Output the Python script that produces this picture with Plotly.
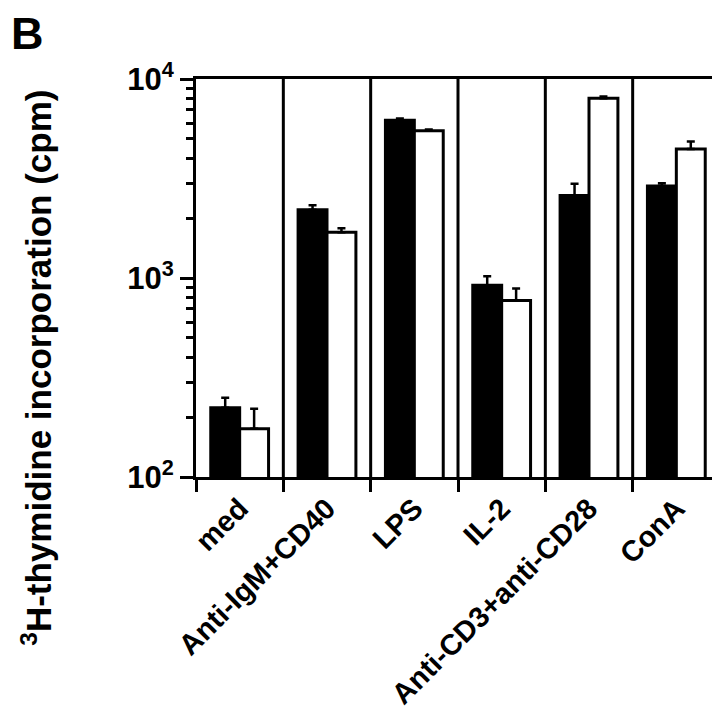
import plotly.graph_objects as go

categories = ["med", "Anti-IgM+CD40", "LPS", "IL-2", "Anti-CD3+anti-CD28", "ConA"]
black_vals = [223, 2200, 6200, 920, 2600, 2900]
black_err = [27, 120, 130, 100, 380, 90]
white_vals = [175, 1700, 5500, 770, 8000, 4450]
white_err = [45, 80, 80, 115, 160, 400]
major_ticks = [100, 1000, 10000]
major_text = ["10<sup>2</sup>", "10<sup>3</sup>", "10<sup>4</sup>"]

FONT = "Liberation Sans"

minor_vals = [k * 10 ** d for d in (2, 3) for k in range(2, 10)]

fig = go.Figure()
fig.add_trace(go.Bar(
    x=categories, y=black_vals,
    marker=dict(color="black", line=dict(color="black", width=3)),
    error_y=dict(type="data", array=black_err, arrayminus=[0] * len(black_err),
                 symmetric=False, color="black", thickness=2.5, width=4),
    showlegend=False,
))
fig.add_trace(go.Bar(
    x=categories, y=white_vals,
    marker=dict(color="white", line=dict(color="black", width=3)),
    error_y=dict(type="data", array=white_err, arrayminus=[0] * len(white_err),
                 symmetric=False, color="black", thickness=2.5, width=4),
    showlegend=False,
))

# vertical dividers between categories
for i in range(len(categories) - 1):
    fig.add_shape(type="line", xref="x", yref="paper", x0=i + 0.5, x1=i + 0.5,
                  y0=0, y1=1, line=dict(color="black", width=3), layer="above")

fig.update_layout(
    width=720, height=716,
    margin=dict(l=188, r=5, t=71, b=247),
    plot_bgcolor="white", paper_bgcolor="white",
    barmode="group", bargap=0.338, bargroupgap=0,
    font=dict(family=FONT, color="black"),
)
fig.update_xaxes(
    type="category", range=[-0.5, len(categories) - 0.5],
    showline=True, linecolor="black", linewidth=3, mirror=True,
    ticks="outside", tickson="boundaries", ticklen=12, tickwidth=3, tickcolor="black",
    tickangle=-45, tickfont=dict(family=FONT, size=29, color="black", weight="bold"),
    showgrid=False,
)
fig.update_yaxes(
    type="log", range=[2, 4],
    showline=True, linecolor="black", linewidth=3, mirror=True,
    tickmode="array", tickvals=major_ticks, ticktext=major_text,
    ticks="outside", ticklen=13, tickwidth=3, tickcolor="black",
    tickfont=dict(family=FONT, size=31, color="black", weight="bold"),
    minor=dict(tickmode="array", tickvals=minor_vals, ticks="outside",
               ticklen=7, tickwidth=3, tickcolor="black", showgrid=False),
    showgrid=False, zeroline=False,
)

fig.add_annotation(
    text="<sup>3</sup>H-thymidine incorporation (cpm)",
    textangle=-90, xref="paper", yref="paper",
    x=-0.305, y=0.275, xanchor="center", yanchor="middle", showarrow=False,
    font=dict(family=FONT, size=35, color="black", weight="bold"),
)
fig.add_annotation(
    text="B", xref="paper", yref="paper",
    x=-188 / 527, y=1 + 71 / 398 + 0.005, xanchor="left", yanchor="top", showarrow=False,
    font=dict(family=FONT, size=45, color="black", weight="bold"),
)

fig.write_html("out.html")
